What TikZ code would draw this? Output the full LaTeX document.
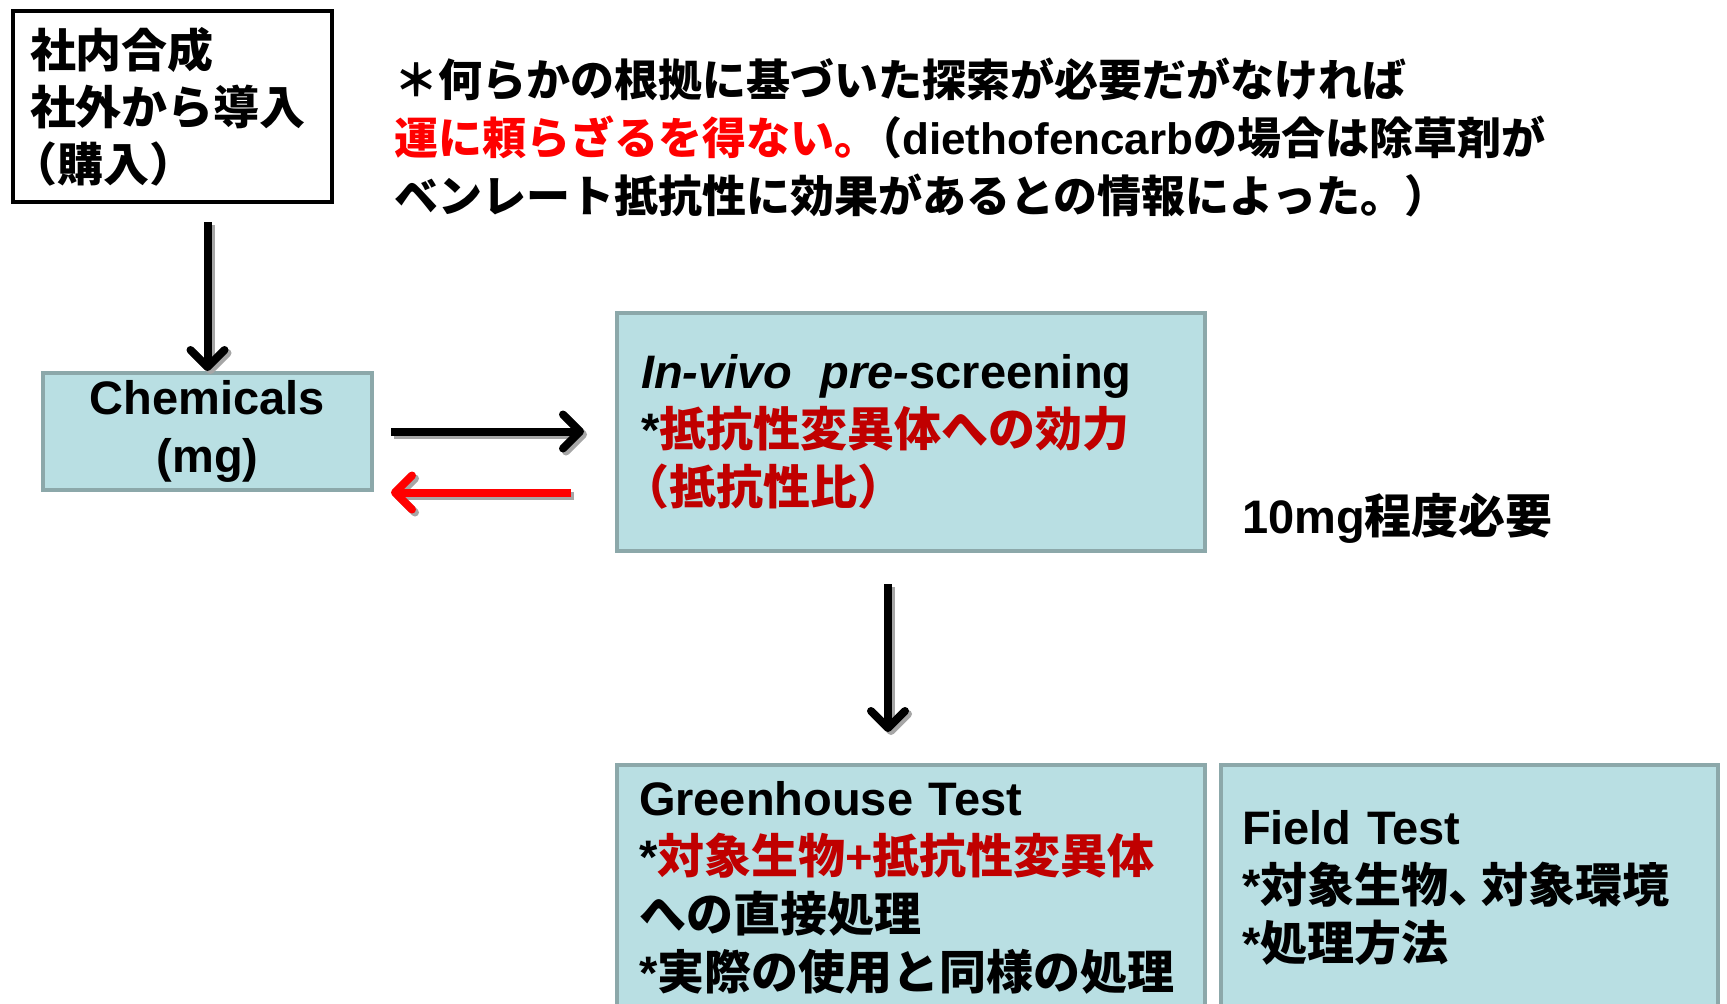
\documentclass[tikz,border=0pt]{standalone}
\usepackage{fontspec}
\setmainfont{Liberation Sans}
\newfontfamily\jp{Noto Sans CJK JP}
\usetikzlibrary{arrows.meta,calc}
\definecolor{boxfill}{HTML}{B9DFE3}
\definecolor{boxline}{HTML}{8CA8AA}
\definecolor{dred}{HTML}{C00000}
\definecolor{shadowgray}{HTML}{A6A6A6}
\newcommand\J[1]{{\jp #1}}
\begin{document}
\begin{tikzpicture}[x=1pt,y=-1pt,
  bluebox/.style={draw=boxline, line width=4pt, fill=boxfill, inner ysep=0pt,
    align=left, font=\fontsize{47}{58}\selectfont\bfseries},
  whitebox/.style={draw=black, line width=4pt, fill=white, inner ysep=0pt,
    align=left, font=\fontsize{46}{57}\selectfont\bfseries},
  plaintext/.style={inner sep=0pt, align=left},
  tipshape/.style={-{Straight Barb[length=17pt,width=34pt,round]}},
  arr/.style={line width=8pt, tipshape, draw=#1,
    preaction={draw=shadowgray, line width=8pt, tipshape,
      transform canvas={shift={(3pt,-3pt)}}}},
  arr/.default=black]
\useasboundingbox (0,0) rectangle (1727,1004);
\clip (0,0) rectangle (1727,1004);
\fill[white] (0,0) rectangle (1727,1004);

\node[whitebox, text width=285pt, inner xsep=17pt, minimum height=191pt] (src) at (172.5,106.5)
  {\J{社内合成}\\{}\J{社外から導入}\\{}\hspace*{-0.4em}\J{（購入）}};

\node[plaintext, anchor=west, font=\fontsize{44}{58}\selectfont\bfseries] (note) at (394,137)
  {\J{＊何らかの根拠に基づいた探索が必要だがなければ}\\{}%
   \textcolor{red}{\J{運に頼らざるを得ない。}}\kern-0.45em\J{（}diethofencarb\J{の場合は除草剤が}\\{}%
   \J{ベンレート抵抗性に効果があるとの情報によった。）}};

\node[bluebox, align=center, text width=300pt, inner xsep=14.5pt, minimum height=117pt] (chem) at (207.5,431.5)
  {Chemicals\\{}(mg)};

\node[bluebox, text width=540pt, inner xsep=24pt, minimum height=238pt] (invivo) at (911,432)
  {\textit{In-vivo}\hspace{0.6em}\textit{pre-}screening\\{}%
   *\textcolor{dred}{\J{抵抗性変異体への効力}}\\{}%
   \hspace*{-0.4em}\textcolor{dred}{\J{（抵抗性比）}}};

\node[plaintext, anchor=west, font=\fontsize{47}{58}\selectfont\bfseries] (need) at (1242,518)
  {10mg\J{程度必要}};

\node[bluebox, text width=544pt, inner xsep=22pt, minimum height=245pt] (green) at (911,887.5)
  {Greenhouse Test\\{}%
   *\textcolor{dred}{\J{対象生物}+\J{抵抗性変異体}}\\{}%
   \J{への直接処理}\\{}%
   *\J{実際の使用と同様の処理}};

\node[bluebox, text width=455pt, inner xsep=21pt, minimum height=245pt] (field) at (1469.5,887.5)
  {Field Test\\{}%
   *\J{対象生物、}\kern-0.3em\J{対象環境}\\{}%
   *\J{処理方法}};

\draw[arr] ($(src.south -| chem.north)+(0,18)$) -- (chem.north);
\draw[arr] ($(chem.east)+(17,0)$) -- ($(chem.east -| invivo.west)+(-31,0)$);
\draw[arr=red] ($(chem.east -| invivo.west)+(-44,61)$) -- ($(chem.east)+(17,61)$);
\draw[arr] ($(invivo.south)+(-23,31)$) -- ($(green.north)+(-23,-31)$);
\end{tikzpicture}
\end{document}
